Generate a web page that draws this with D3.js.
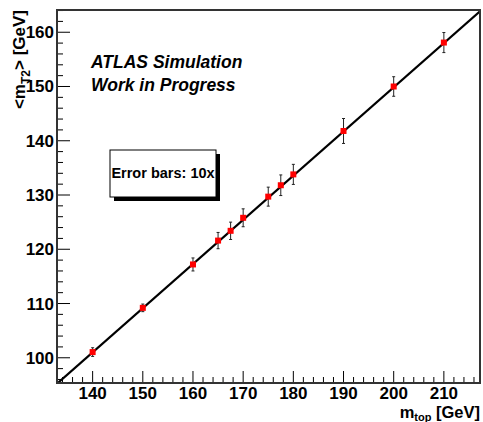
<!DOCTYPE html>
<html><head><meta charset="utf-8">
<script src="https://cdn.jsdelivr.net/npm/d3@7"></script>
<style>body{margin:0;background:#fff}svg{display:block}text{font-family:"Liberation Sans",Arial,Helvetica,sans-serif;font-weight:bold}</style>
</head><body>
<script>
const mtop = [140, 150, 160, 165, 167.5, 170, 175, 177.5, 180, 190, 200, 210];
const mt2 = [101.05, 109.2, 117.2, 121.6, 123.4, 125.8, 129.7, 131.8, 133.8, 141.8, 150.0, 158.1];
const err = [0.8, 0.7, 1.2, 1.5, 1.6, 1.65, 1.75, 1.9, 1.85, 2.3, 1.8, 1.85];
const fitLine = [[133, 95.3], [217.2, 163.85]];
const xTicks = [140, 150, 160, 170, 180, 190, 200, 210];
const yTicks = [100, 110, 120, 130, 140, 150, 160];

const W = 483, H = 422;
const L = 57, R = 480, T = 10, B = 383;
const svg = d3.select("body").append("svg").attr("width", W).attr("height", H);
const x = d3.scaleLinear().domain([132.9, 217.2]).range([L, R]);
const y = d3.scaleLinear().domain([95.35, 164.1]).range([B, T]);

svg.append("clipPath").attr("id", "c").append("rect").attr("x", L).attr("y", T).attr("width", R - L).attr("height", B - T);

// ticks
const xMinor = d3.range(134, 217, 2);
const yMinor = d3.range(96, 164.1, 2);
const g = svg.append("g");
g.selectAll(".xm").data(xMinor).join("line")
  .attr("x1", d => x(d)).attr("x2", d => x(d))
  .attr("y1", B).attr("y2", d => B - (d % 10 === 0 ? 12 : 6))
  .attr("stroke", "#000").attr("stroke-width", 1);
g.selectAll(".ym").data(yMinor).join("line")
  .attr("y1", d => y(d)).attr("y2", d => y(d))
  .attr("x1", L).attr("x2", d => L + (d % 10 === 0 ? 13 : 6))
  .attr("stroke", "#000").attr("stroke-width", 1);

// tick labels
g.selectAll(".xl").data(xTicks).join("text")
  .attr("x", d => x(d)).attr("y", 398.5).attr("text-anchor", "middle")
  .attr("font-size", 17).text(d => d);
g.selectAll(".yl").data(yTicks).join("text")
  .attr("x", 54).attr("y", d => y(d) + 6).attr("text-anchor", "end")
  .attr("font-size", 17).text(d => d);

// fit line
svg.append("line").attr("clip-path", "url(#c)")
  .attr("x1", x(fitLine[0][0])).attr("y1", y(fitLine[0][1]))
  .attr("x2", x(fitLine[1][0])).attr("y2", y(fitLine[1][1]))
  .attr("stroke", "#000").attr("stroke-width", 2.2);

// error bars
const pts = mtop.map((m, i) => ({m, v: mt2[i], e: err[i]}));
const eb = svg.append("g").attr("stroke", "#222").attr("stroke-width", 1);
eb.selectAll(".v").data(pts).join("line")
  .attr("x1", d => x(d.m)).attr("x2", d => x(d.m))
  .attr("y1", d => y(d.v - d.e)).attr("y2", d => y(d.v + d.e));
eb.selectAll(".t").data(pts).join("line")
  .attr("x1", d => x(d.m) - 1.5).attr("x2", d => x(d.m) + 1.5)
  .attr("y1", d => y(d.v + d.e)).attr("y2", d => y(d.v + d.e));
eb.selectAll(".b").data(pts).join("line")
  .attr("x1", d => x(d.m) - 1.5).attr("x2", d => x(d.m) + 1.5)
  .attr("y1", d => y(d.v - d.e)).attr("y2", d => y(d.v - d.e));
svg.selectAll(".pt").data(pts).join("rect")
  .attr("x", d => x(d.m) - 3).attr("y", d => y(d.v) - 3)
  .attr("width", 6).attr("height", 6).attr("fill", "#ff0000");

// frame
svg.append("rect").attr("x", L).attr("y", T).attr("width", R - L).attr("height", B - T)
  .attr("fill", "none").attr("stroke", "#333").attr("stroke-width", 2);

// axis titles
const xt = svg.append("text").attr("x", 480).attr("y", 417.5).attr("text-anchor", "end").attr("font-size", 16.5);
xt.append("tspan").text("m");
xt.append("tspan").attr("font-size", 11).attr("dy", 3).text("top");
xt.append("tspan").attr("dy", -3).text(" [GeV]");

const yt = svg.append("text").attr("transform", "translate(25,10) rotate(-90)").attr("text-anchor", "end").attr("font-size", 17);
yt.append("tspan").text("<m");
yt.append("tspan").attr("font-size", 12).attr("dy", 5).text("T2");
yt.append("tspan").attr("dy", -5).text("> [GeV]");

// labels
svg.append("text").attr("x", 91).attr("y", 68).attr("font-size", 17.5).attr("font-style", "italic").text("ATLAS Simulation");
svg.append("text").attr("x", 91).attr("y", 91).attr("font-size", 17.5).attr("font-style", "italic").text("Work in Progress");

// legend box with shadow
svg.append("rect").attr("x", 114).attr("y", 154).attr("width", 106).attr("height", 47).attr("fill", "#000");
svg.append("rect").attr("x", 110).attr("y", 150).attr("width", 106).attr("height", 47).attr("fill", "#fff").attr("stroke", "#000").attr("stroke-width", 1);
svg.append("text").attr("x", 163).attr("y", 178).attr("text-anchor", "middle").attr("font-size", 14.5).text("Error bars: 10x");
</script>
</body></html>
